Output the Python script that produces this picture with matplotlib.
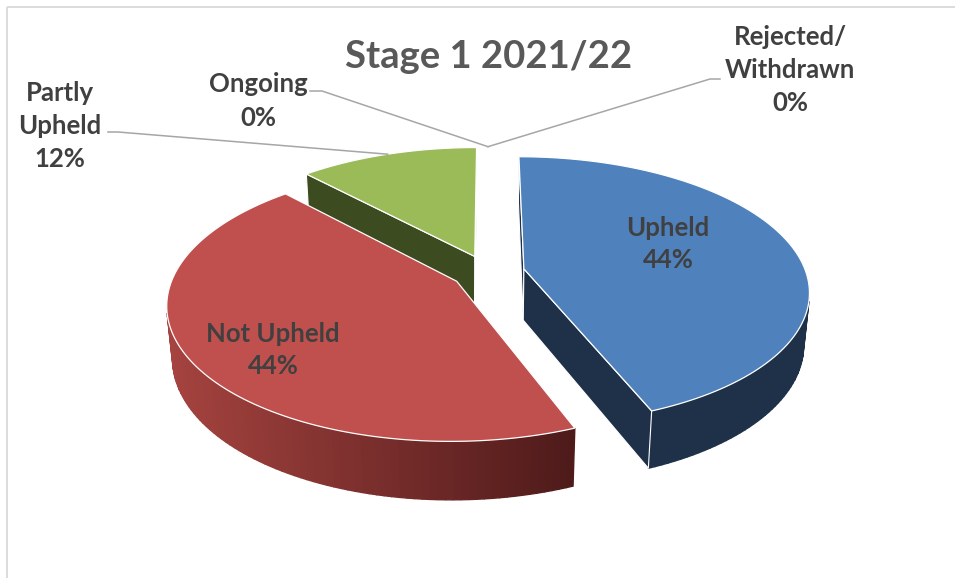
import numpy as np
import matplotlib.pyplot as plt
from matplotlib.patches import Polygon, Rectangle

# data
categories = ["Upheld", "Not Upheld", "Partly Upheld", "Ongoing", "Rejected/Withdrawn"]
counts = [11, 11, 3, 0, 0]
label_text = ["Upheld", "Not Upheld", "Partly\nUpheld", "Ongoing", "Rejected/\nWithdrawn"]
top_colors = ["#4f81bd", "#c0504d", "#9bbb59", "#8064a2", "#4bacc6"]
side_colors = [("#1f3149", "#1f3149"), ("#a5433f", "#4e1a1a"), ("#3d4b21", "#3d4b21"),
               ("#3f3151", "#3f3151"), ("#255663", "#255663")]
title = "Stage 1 2021/22"

# 3d look
elev = np.radians(27.7)
dist = 5.5
thick = 0.21
explode = 0.13
scale = 282
cx, cy = 488, 272
se, ce = np.sin(elev), np.cos(elev)
cam = np.array([0, -dist * ce, dist * se])


def proj(x, y, z):
    w = 1 + (y * ce - z * se) / dist
    u = x / w
    v = (y * se + z * ce) / w
    return cx + scale * u, cy - scale * v


def visible(normal, point):
    return np.dot(normal, cam - np.array(point)) > 0


def lerp(c1, c2, t):
    a = np.array(plt.matplotlib.colors.to_rgb(c1))
    b = np.array(plt.matplotlib.colors.to_rgb(c2))
    return a + (b - a) * t


fig = plt.figure(figsize=(9.55, 5.78), dpi=100)
ax = fig.add_axes([0, 0, 1, 1])
ax.set_xlim(0, 955)
ax.set_ylim(578, 0)
ax.axis("off")

ax.add_patch(Rectangle((7, 7), 1200, 1200, fill=False, edgecolor="#d9d9d9", lw=1.3))

total = sum(counts)
fracs = [c / total for c in counts]
starts, ends = [], []
a = 90.0
for f in fracs:
    starts.append(a)
    a -= f * 360
    ends.append(a)

slices = []
for i, f in enumerate(fracs):
    mid = np.radians((starts[i] + ends[i]) / 2)
    ex, ey = explode * np.cos(mid), explode * np.sin(mid)
    slices.append((i, ex, ey))

# paint back to front
order = sorted([s for s in slices if fracs[s[0]] > 0], key=lambda s: -(s[2] + 0.5 * np.sin(np.radians((starts[s[0]] + ends[s[0]]) / 2))))

fs_lab = 18.5
font = ["Lato", "DejaVu Sans"]

for i, ex, ey in order:
    th = np.radians(np.linspace(starts[i], ends[i], 120))
    # outer wall
    xs = [proj(ex + np.cos(t), ey + np.sin(t), 0)[0] for t in th]
    xmin, xmax = min(xs), max(xs)
    for k in range(len(th) - 1):
        tm = (th[k] + th[k + 1]) / 2
        p = (ex + np.cos(tm), ey + np.sin(tm), -thick / 2)
        if not visible(np.array([np.cos(tm), np.sin(tm), 0]), p):
            continue
        quad = [proj(ex + np.cos(th[k]), ey + np.sin(th[k]), 0),
                proj(ex + np.cos(th[k + 1]), ey + np.sin(th[k + 1]), 0),
                proj(ex + np.cos(th[k + 1]), ey + np.sin(th[k + 1]), -thick),
                proj(ex + np.cos(th[k]), ey + np.sin(th[k]), -thick)]
        tcol = (proj(ex + np.cos(tm), ey + np.sin(tm), 0)[0] - xmin) / max(xmax - xmin, 1)
        col = lerp(side_colors[i][0], side_colors[i][1], tcol)
        ax.add_patch(Polygon(quad, closed=True, facecolor=col, edgecolor=col, lw=1.0))
    # radial walls
    for ang, sign in ((starts[i], 1), (ends[i], -1)):
        t = np.radians(ang)
        n = np.array([np.cos(t + sign * np.pi / 2), np.sin(t + sign * np.pi / 2), 0])
        p = (ex + 0.5 * np.cos(t), ey + 0.5 * np.sin(t), -thick / 2)
        if not visible(n, p):
            continue
        quad = [proj(ex, ey, 0), proj(ex + np.cos(t), ey + np.sin(t), 0),
                proj(ex + np.cos(t), ey + np.sin(t), -thick), proj(ex, ey, -thick)]
        ax.add_patch(Polygon(quad, closed=True, facecolor=side_colors[i][1],
                             edgecolor="white", lw=0.8, joinstyle="round"))
    # top face
    pts = [proj(ex, ey, 0)] + [proj(ex + np.cos(t), ey + np.sin(t), 0) for t in th]
    ax.add_patch(Polygon(pts, closed=True, facecolor=top_colors[i], edgecolor="white", lw=0.9))

# labels inside
inside_pos = {0: (668, 244), 1: (273, 350)}
for i, (x, y) in inside_pos.items():
    ax.text(x, y, f"{label_text[i]}\n{round(fracs[i] * 100)}%", ha="center", va="center",
            fontsize=fs_lab, fontweight="bold", color="#404040", family=font, linespacing=1.45)

# labels outside with leaders
outside = {2: ((60, 126), (108, 132), (118, 132)),
           3: ((258, 101), (310, 91), (322, 91)),
           4: ((790, 70), (720, 79), (710, 79))}
for i, ((lx, ly), p0, p1) in outside.items():
    mid = np.radians((starts[i] + ends[i]) / 2)
    ex, ey = explode * np.cos(mid), explode * np.sin(mid)
    anchor = proj(ex + np.cos(mid), ey + np.sin(mid), 0)
    ax.plot([p0[0], p1[0], anchor[0]], [p0[1], p1[1], anchor[1]], color="#a6a6a6", lw=1.1)
    ax.text(lx, ly, f"{label_text[i]}\n{round(fracs[i] * 100)}%", ha="center", va="center",
            fontsize=fs_lab, fontweight="bold", color="#404040", family=font, linespacing=1.45)

ax.text(489, 68, title, ha="center", va="baseline", fontsize=27.5, fontweight="bold",
        color="#595959", family=font)

fig.savefig("out.png", dpi=100)
